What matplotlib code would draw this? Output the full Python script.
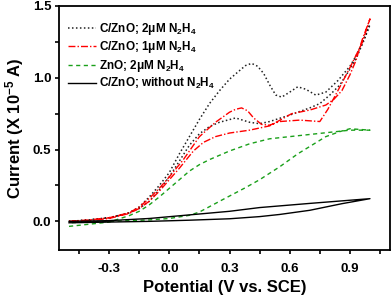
import numpy as np
import matplotlib
matplotlib.use('Agg')
import matplotlib.pyplot as plt

plt.rcParams['font.family'] = ['Liberation Sans', 'DejaVu Sans']
plt.rcParams['font.weight'] = 'bold'
plt.rcParams['mathtext.fontset'] = 'custom'
plt.rcParams['mathtext.rm'] = 'Liberation Sans:bold'
plt.rcParams['mathtext.it'] = 'Liberation Sans:bold'
plt.rcParams['mathtext.bf'] = 'Liberation Sans:bold'
plt.rcParams['mathtext.default'] = 'regular'

# C/ZnO; 2uM N2H4 (black dotted)
cz2_fwd_x = [-0.5, -0.4, -0.3, -0.2, -0.15, -0.1, -0.05, 0.0, 0.05, 0.1, 0.15, 0.2, 0.25, 0.3, 0.35, 0.38, 0.41, 0.44, 0.47, 0.5, 0.53, 0.56, 0.6, 0.64, 0.68, 0.73, 0.78, 0.84, 0.9, 0.93, 0.96, 0.99, 1.0]
cz2_fwd_y = [0.0, 0.01, 0.025, 0.06, 0.1, 0.17, 0.25, 0.34, 0.47, 0.59, 0.71, 0.82, 0.91, 0.99, 1.05, 1.085, 1.10, 1.08, 1.03, 0.95, 0.88, 0.865, 0.90, 0.937, 0.92, 0.879, 0.90, 0.98, 1.08, 1.15, 1.24, 1.34, 1.37]
cz2_rev_x = [1.0, 0.97, 0.93, 0.9, 0.85, 0.8, 0.75, 0.7, 0.6, 0.5, 0.45, 0.4, 0.33, 0.25, 0.2, 0.15, 0.1, 0.05, 0.0, -0.05, -0.1, -0.15, -0.2, -0.3, -0.4, -0.5]
cz2_rev_y = [1.37, 1.26, 1.13, 1.06, 0.95, 0.88, 0.82, 0.79, 0.74, 0.695, 0.68, 0.69, 0.72, 0.69, 0.66, 0.61, 0.53, 0.42, 0.31, 0.22, 0.14, 0.09, 0.06, 0.025, 0.01, 0.0]

# C/ZnO; 1uM N2H4 (red dash-dot)
cz1_fwd_x = [-0.5, -0.4, -0.3, -0.2, -0.15, -0.1, -0.05, 0.0, 0.07, 0.15, 0.23, 0.3, 0.33, 0.36, 0.39, 0.42, 0.46, 0.5, 0.55, 0.65, 0.75, 0.79, 0.84, 0.9, 0.96, 1.0]
cz1_fwd_y = [0.0, 0.01, 0.025, 0.06, 0.1, 0.16, 0.23, 0.31, 0.43, 0.59, 0.69, 0.76, 0.78, 0.79, 0.77, 0.72, 0.675, 0.67, 0.695, 0.705, 0.695, 0.78, 0.91, 1.07, 1.24, 1.41]
cz1_rev_x = [1.0, 0.96, 0.93, 0.9, 0.86, 0.82, 0.78, 0.7, 0.61, 0.5, 0.4, 0.3, 0.23, 0.17, 0.12, 0.05, 0.0, -0.05, -0.1, -0.15, -0.2, -0.3, -0.4, -0.5]
cz1_rev_y = [1.41, 1.26, 1.12, 1.02, 0.91, 0.85, 0.81, 0.775, 0.75, 0.665, 0.635, 0.615, 0.59, 0.55, 0.49, 0.37, 0.29, 0.21, 0.14, 0.09, 0.055, 0.02, 0.005, 0.0]

# ZnO; 2uM N2H4 (green dashed)
zn2_fwd_x = [-0.5, -0.4, -0.3, -0.2, -0.15, -0.1, -0.05, 0.0, 0.05, 0.1, 0.15, 0.2, 0.3, 0.4, 0.5, 0.6, 0.7, 0.8, 0.9, 1.0]
zn2_fwd_y = [-0.035, -0.02, -0.005, 0.04, 0.07, 0.115, 0.17, 0.23, 0.29, 0.35, 0.395, 0.43, 0.49, 0.54, 0.575, 0.59, 0.605, 0.62, 0.635, 0.635]
zn2_rev_x = [1.0, 0.9, 0.85, 0.78, 0.71, 0.64, 0.55, 0.45, 0.38, 0.26, 0.15, 0.1, 0.0, -0.1, -0.2, -0.3, -0.5]
zn2_rev_y = [0.635, 0.645, 0.625, 0.59, 0.53, 0.47, 0.38, 0.29, 0.235, 0.147, 0.065, 0.042, 0.02, 0.01, 0.005, 0.0, -0.01]

# C/ZnO; without N2H4 (black solid)
cz0_fwd_x = [-0.5, -0.3, -0.1, 0.1, 0.3, 0.45, 0.7, 1.0]
cz0_fwd_y = [0.0, 0.005, 0.02, 0.045, 0.07, 0.096, 0.125, 0.158]
cz0_rev_x = [1.0, 0.86, 0.7, 0.55, 0.45, 0.3, 0.1, -0.1, -0.3, -0.5]
cz0_rev_y = [0.158, 0.123, 0.077, 0.048, 0.033, 0.018, 0.008, 0.0, -0.005, -0.01]

labels = ['C/ZnO; 2\u03bcM N$_2$H$_4$', 'C/ZnO; 1\u03bcM N$_2$H$_4$',
          'ZnO; 2\u03bcM N$_2$H$_4$', 'C/ZnO; without N$_2$H$_4$']

fig = plt.figure(figsize=(3.92, 2.97), dpi=100)
ax = fig.add_axes([0.1505, 0.158, 0.8445, 0.822])

ax.plot(cz2_fwd_x + cz2_rev_x, cz2_fwd_y + cz2_rev_y, color='#222222', ls=(0, (1, 1.6)), lw=1.1, label=labels[0])
ax.plot(cz1_fwd_x + cz1_rev_x, cz1_fwd_y + cz1_rev_y, color='red', ls=(0, (5, 1.5, 1, 1.5)), lw=1.0, label=labels[1])
ax.plot(zn2_fwd_x + zn2_rev_x, zn2_fwd_y + zn2_rev_y, color='#1aa01a', ls=(0, (3, 2.5)), lw=1.0, label=labels[2])
ax.plot(cz0_fwd_x + cz0_rev_x, cz0_fwd_y + cz0_rev_y, color='black', ls='-', lw=1.0, label=labels[3])

ax.set_xlim(-0.55, 1.1)
ax.set_ylim(-0.2, 1.5)
ax.set_xticks([-0.3, 0.0, 0.3, 0.6, 0.9])
ax.set_xticks([-0.45, -0.15, 0.15, 0.45, 0.75, 1.05], minor=True)
ax.set_yticks([0.0, 0.5, 1.0, 1.5])
ax.set_yticks([0.25, 0.75, 1.25], minor=True)
ax.set_xticklabels(['-0.3', '0.0', '0.3', '0.6', '0.9'])
ax.set_yticklabels(['0.0', '0.5', '1.0', '1.5'])
ax.tick_params(which='both', direction='out', length=3, width=1.2, labelsize=9.5)
ax.tick_params(axis='x', which='both', pad=6)
ax.tick_params(axis='y', which='both', pad=2.5)
for s in ax.spines.values():
    s.set_linewidth(1.3)

ax.set_xlabel('Potential (V vs. SCE)', fontsize=12, fontweight='bold', labelpad=4)
ax.set_ylabel('Current (X 10$^{-5}$ A)', fontsize=12, fontweight='bold', labelpad=5)

ax.legend(loc='upper left', frameon=False, fontsize=8.5, handlelength=2.4, handletextpad=0.25,
          labelspacing=0.21, borderaxespad=0.0, borderpad=0.3, bbox_to_anchor=(0.0166, 0.9536))

fig.savefig('out.png', dpi=100)
